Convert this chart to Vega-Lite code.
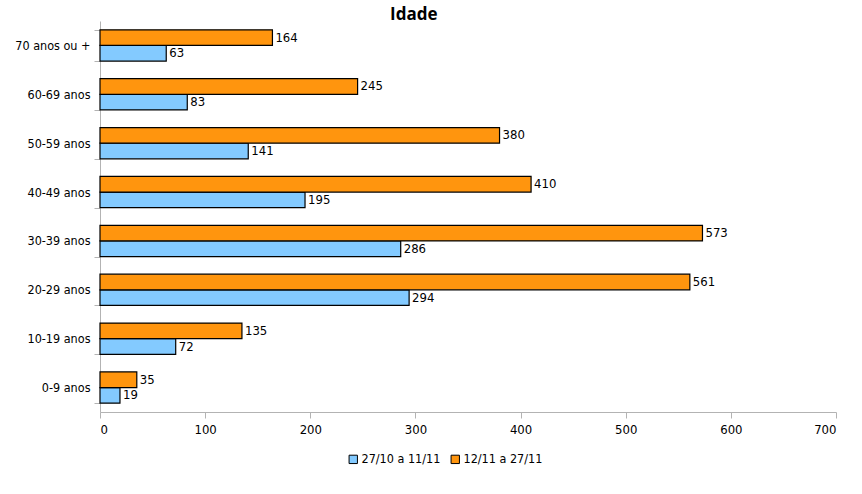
{
  "$schema": "https://vega.github.io/schema/vega-lite/v6.json",
  "width": 736,
  "height": 391,
  "autosize": {"type": "none"},
  "padding": {"left": 100, "top": 21, "right": 26, "bottom": 82},
  "background": "white",
  "title": {
    "text": "Idade",
    "font": "Open Sans",
    "fontSize": 17,
    "fontWeight": "bold",
    "color": "black",
    "anchor": "start",
    "frame": "group",
    "dx": 290,
    "offset": 0,
    "dy": 9
  },
  "config": {
    "view": {"stroke": null},
    "font": "DejaVu Sans Condensed, Liberation Sans"
  },
  "data": {
    "values": [
      {"idade": "70 anos ou +", "periodo": "27/10 a 11/11", "casos": 63},
      {"idade": "70 anos ou +", "periodo": "12/11 a 27/11", "casos": 164},
      {"idade": "60-69 anos", "periodo": "27/10 a 11/11", "casos": 83},
      {"idade": "60-69 anos", "periodo": "12/11 a 27/11", "casos": 245},
      {"idade": "50-59 anos", "periodo": "27/10 a 11/11", "casos": 141},
      {"idade": "50-59 anos", "periodo": "12/11 a 27/11", "casos": 380},
      {"idade": "40-49 anos", "periodo": "27/10 a 11/11", "casos": 195},
      {"idade": "40-49 anos", "periodo": "12/11 a 27/11", "casos": 410},
      {"idade": "30-39 anos", "periodo": "27/10 a 11/11", "casos": 286},
      {"idade": "30-39 anos", "periodo": "12/11 a 27/11", "casos": 573},
      {"idade": "20-29 anos", "periodo": "27/10 a 11/11", "casos": 294},
      {"idade": "20-29 anos", "periodo": "12/11 a 27/11", "casos": 561},
      {"idade": "10-19 anos", "periodo": "27/10 a 11/11", "casos": 72},
      {"idade": "10-19 anos", "periodo": "12/11 a 27/11", "casos": 135},
      {"idade": "0-9 anos", "periodo": "27/10 a 11/11", "casos": 19},
      {"idade": "0-9 anos", "periodo": "12/11 a 27/11", "casos": 35}
    ]
  },
  "encoding": {
    "y": {
      "field": "idade",
      "type": "nominal",
      "sort": ["70 anos ou +", "60-69 anos", "50-59 anos", "40-49 anos", "30-39 anos", "20-29 anos", "10-19 anos", "0-9 anos"],
      "scale": {"paddingInner": 0.36, "paddingOuter": 0.18},
      "title": null,
      "axis": {
        "tickBand": "extent",
        "domainColor": "#b3b3b3",
        "tickColor": "#b3b3b3",
        "tickSize": 6,
        "labelFont": "DejaVu Sans Condensed, Liberation Sans",
        "labelFontSize": 12.5,
        "labelColor": "black",
        "labelPadding": 4
      }
    },
    "yOffset": {
      "field": "periodo",
      "sort": ["12/11 a 27/11", "27/10 a 11/11"]
    },
    "x": {
      "field": "casos",
      "type": "quantitative",
      "scale": {"domain": [0, 700], "nice": false},
      "title": null,
      "axis": {
        "values": [0, 100, 200, 300, 400, 500, 600, 700],
        "grid": false,
        "domainColor": "#b3b3b3",
        "tickColor": "#b3b3b3",
        "tickSize": 6,
        "labelFont": "DejaVu Sans Condensed, Liberation Sans",
        "labelFontSize": 13,
        "labelColor": "black",
        "labelPadding": 5
      }
    }
  },
  "layer": [
    {
      "mark": {"type": "bar", "stroke": "black", "strokeWidth": 1.2},
      "encoding": {
        "color": {
          "field": "periodo",
          "type": "nominal",
          "scale": {
            "domain": ["27/10 a 11/11", "12/11 a 27/11"],
            "range": ["#83caff", "#ff950e"]
          },
          "legend": {
            "title": null,
            "orient": "none",
            "direction": "horizontal",
            "legendX": 247,
            "legendY": 432,
            "symbolType": "square",
            "symbolSize": 70,
            "symbolStrokeColor": "black",
            "symbolStrokeWidth": 1,
            "labelFont": "DejaVu Sans Condensed, Liberation Sans",
            "labelFontSize": 12.5,
            "labelColor": "black",
            "labelOffset": 2,
            "columnPadding": 8
          }
        }
      }
    },
    {
      "mark": {
        "type": "text",
        "align": "left",
        "baseline": "middle",
        "dx": 3,
        "font": "DejaVu Sans Condensed, Liberation Sans",
        "fontSize": 13,
        "color": "black"
      },
      "encoding": {
        "text": {"field": "casos", "type": "quantitative"}
      }
    }
  ]
}
